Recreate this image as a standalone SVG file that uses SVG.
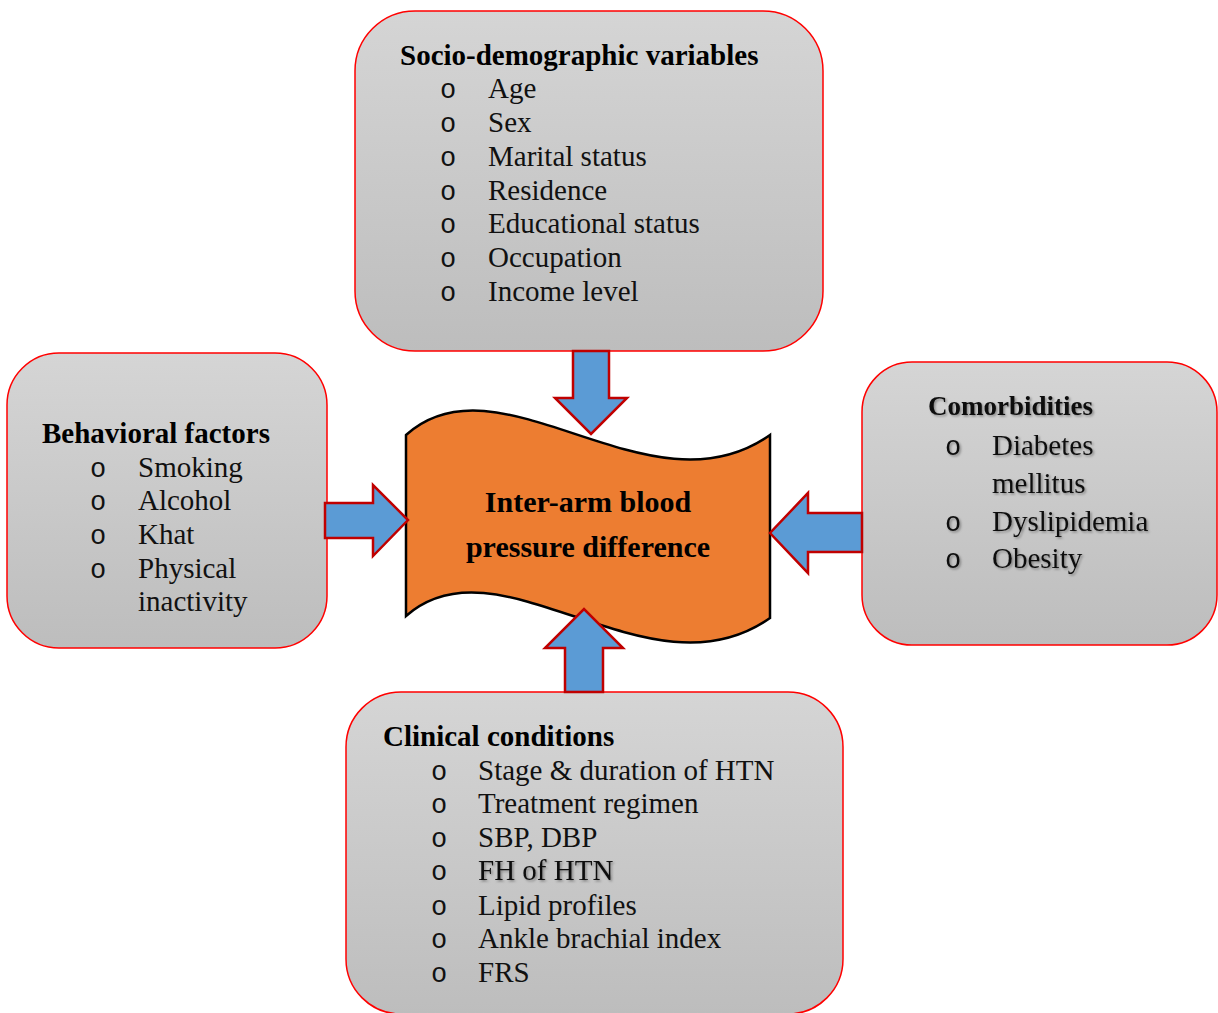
<svg xmlns="http://www.w3.org/2000/svg" width="1218" height="1013" viewBox="0 0 1218 1013">
<style>
.box{fill:url(#g);stroke:#FF0000;stroke-width:1.5}
.arr{fill:#5B9BD5;stroke:#C00000;stroke-width:2.5}
.h{font-family:"Liberation Serif",serif;font-weight:bold;font-size:29px;fill:#000}
.t{font-family:"Liberation Serif",serif;font-size:29px;fill:#111}
.b{font-family:"Liberation Mono",monospace;font-size:27px;fill:#111;text-anchor:middle}
.c{font-family:"Liberation Serif",serif;font-weight:bold;font-size:30px;fill:#000;text-anchor:middle}
.sh{filter:url(#s)}
</style>
<defs>
<linearGradient id="g" x1="0" y1="0" x2="0" y2="1">
<stop offset="0" stop-color="#D5D5D5"/>
<stop offset="1" stop-color="#BDBDBD"/>
</linearGradient>
<filter id="s" x="-10%" y="-30%" width="120%" height="160%">
<feDropShadow dx="1.5" dy="1.5" stdDeviation="0.8" flood-color="#000" flood-opacity="0.35"/>
</filter>
</defs>

<g id="socio">
<rect class="box" x="355" y="11" width="468" height="340" rx="60" ry="60"/>
<text class="h" x="400" y="65">Socio-demographic variables</text>
<text class="b" x="448" y="98">o</text><text class="t" x="488" y="98">Age</text>
<text class="b" x="448" y="132">o</text><text class="t" x="488" y="132">Sex</text>
<text class="b" x="448" y="166">o</text><text class="t" x="488" y="166">Marital status</text>
<text class="b" x="448" y="200">o</text><text class="t" x="488" y="200">Residence</text>
<text class="b" x="448" y="233">o</text><text class="t" x="488" y="233">Educational status</text>
<text class="b" x="448" y="267">o</text><text class="t" x="488" y="267">Occupation</text>
<text class="b" x="448" y="301">o</text><text class="t" x="488" y="301">Income level</text>
</g>

<g id="behavioral">
<rect class="box" x="7" y="353" width="320" height="295" rx="52" ry="52"/>
<text class="h" x="42" y="443">Behavioral factors</text>
<text class="b" x="98" y="477">o</text><text class="t" x="138" y="477">Smoking</text>
<text class="b" x="98" y="510">o</text><text class="t" x="138" y="510">Alcohol</text>
<text class="b" x="98" y="544">o</text><text class="t" x="138" y="544">Khat</text>
<text class="b" x="98" y="578">o</text><text class="t" x="138" y="578">Physical</text>
<text class="t" x="138" y="611">inactivity</text>
</g>

<g id="comorbidities">
<rect class="box" x="862" y="362" width="355" height="283" rx="50" ry="50"/>
<g class="sh">
<text class="t" x="928" y="415" style="font-weight:bold;font-size:27px">Comorbidities</text>
<text class="b" x="953" y="455">o</text><text class="t" x="992" y="455">Diabetes</text>
<text class="t" x="992" y="493">mellitus</text>
<text class="b" x="953" y="531">o</text><text class="t" x="992" y="531">Dyslipidemia</text>
<text class="b" x="953" y="568">o</text><text class="t" x="992" y="568">Obesity</text>
</g>
</g>

<g id="clinical">
<rect class="box" x="346" y="692" width="497" height="322" rx="55" ry="55"/>
<text class="h" x="383" y="746">Clinical conditions</text>
<text class="b" x="439" y="780">o</text><text class="t" x="478" y="780">Stage &amp; duration of HTN</text>
<text class="b" x="439" y="813">o</text><text class="t" x="478" y="813">Treatment regimen</text>
<text class="b" x="439" y="847">o</text><text class="t" x="478" y="847">SBP, DBP</text>
<text class="b" x="439" y="880">o</text><text class="t sh" x="478" y="880">FH of HTN</text>
<text class="b" x="439" y="915">o</text><text class="t" x="478" y="915">Lipid profiles</text>
<text class="b" x="439" y="948">o</text><text class="t" x="478" y="948">Ankle brachial index</text>
<text class="b" x="439" y="982">o</text><text class="t" x="478" y="982">FRS</text>
</g>

<g id="outcome">
<path d="M406,435 C500,350 650,520 770,435 L770,618 C650,703 500,533 406,616 Z" fill="#ED7D31" stroke="#000" stroke-width="2.5" stroke-linejoin="miter"/>
<text class="c" x="588" y="512">Inter-arm blood</text>
<text class="c" x="588" y="557">pressure difference</text>
</g>

<g id="connectors">
<path class="arr" d="M573,351 L609,351 L609,398 L627,398 L591,434 L555,398 L573,398 Z"/>
<path class="arr" d="M325,503 L373,503 L373,485 L408,520 L373,556 L373,538 L325,538 Z"/>
<path class="arr" d="M862,513 L808,513 L808,493 L770,533 L808,573 L808,552 L862,552 Z"/>
<path class="arr" d="M565,692 L603,692 L603,648 L623,648 L584,609 L545,648 L565,648 Z"/>
</g>
</svg>
